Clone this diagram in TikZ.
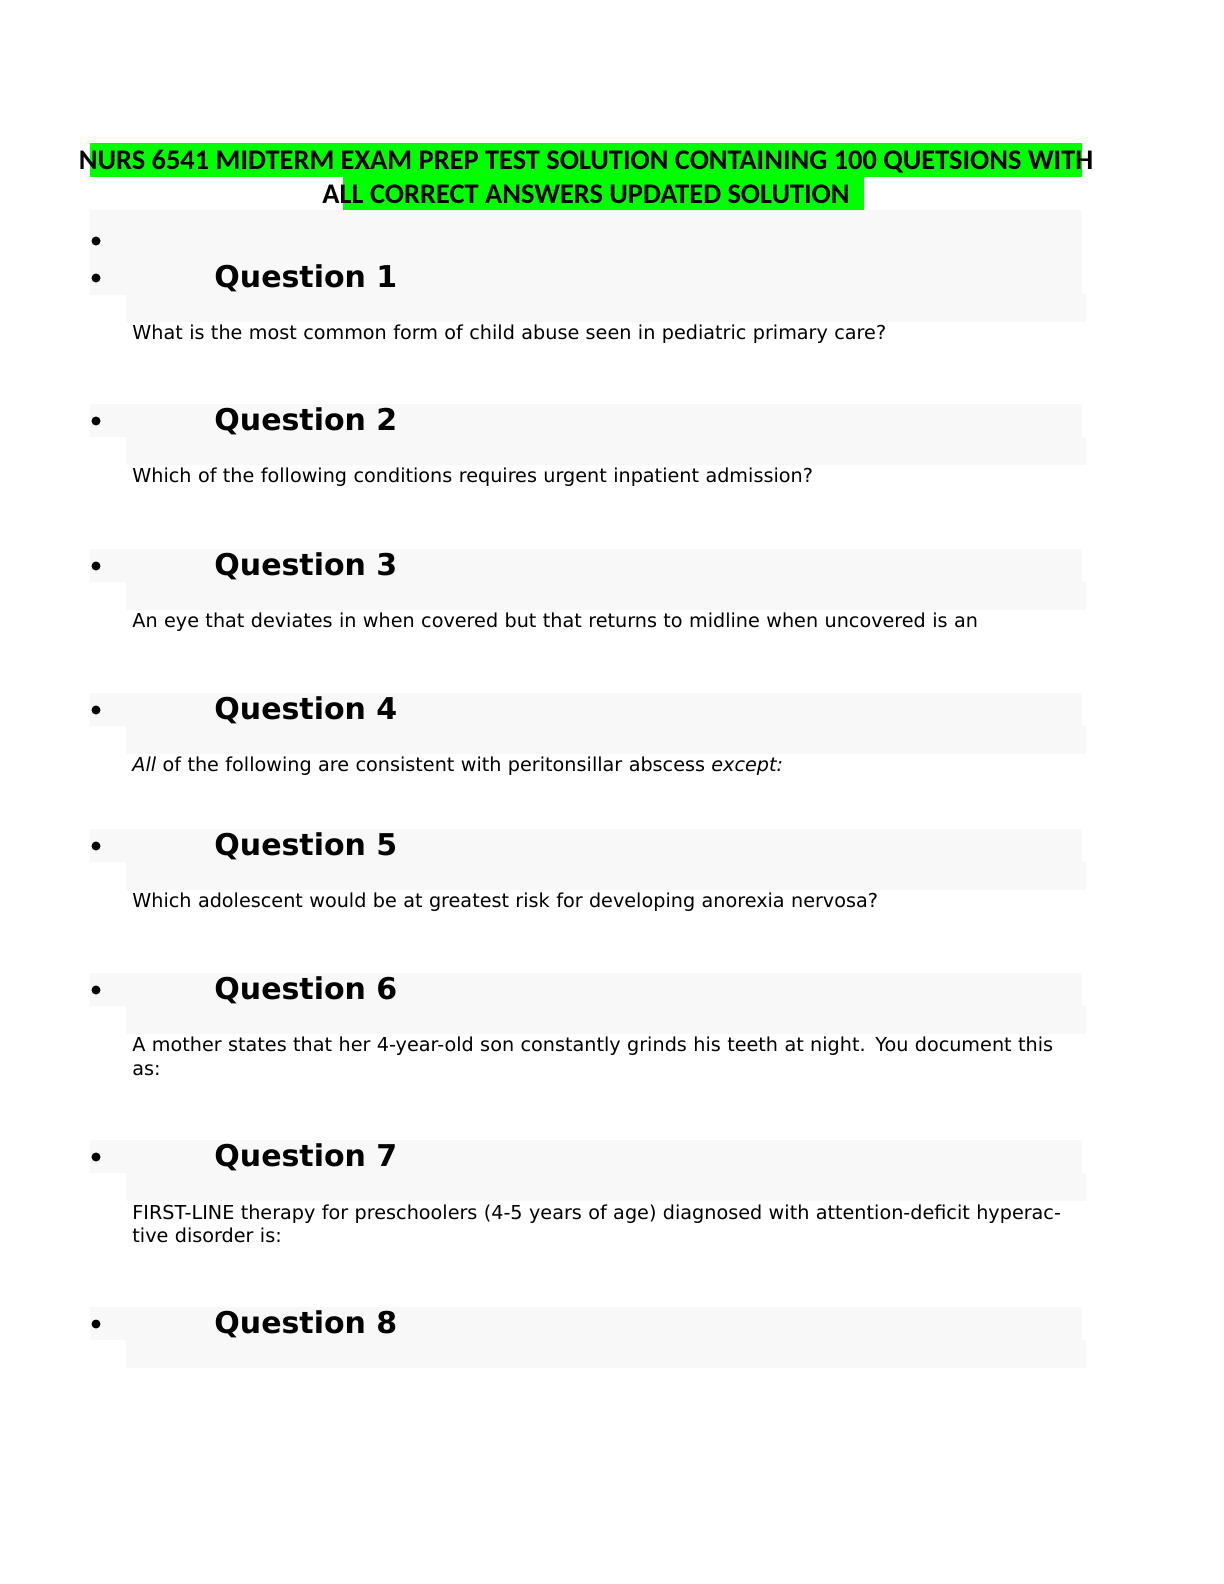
\documentclass[tikz,border=0pt]{standalone}
\usepackage{fontspec}
\setmainfont{DejaVu Sans}
\newfontfamily\titlefont{Carlito}
\usetikzlibrary{positioning}
\definecolor{hlgreen}{HTML}{00FF00}
\definecolor{shade}{HTML}{F8F8F8}
\tikzset{
  qhead/.style = {anchor=west, inner sep=0pt, font=\bfseries\fontsize{15}{18}\selectfont},
  qbody/.style = {anchor=north west, inner sep=0pt, align=left, text width=470pt, font=\fontsize{9.6}{11.6}\selectfont},
  bullet/.style = {circle, fill=black, inner sep=0pt, minimum size=4.5pt},
  band/.style = {fill=shade, draw=none}
}
\begin{document}
\begin{tikzpicture}[x=0.5pt, y=-0.5pt]
\useasboundingbox (0,0) rectangle (1224,1584);
% title area
\fill[band] (90,210) rectangle (1082,295);
\fill[hlgreen] (90,143) rectangle (1082,177);
\fill[hlgreen] (343,177) rectangle (864,210);
\node (title) [inner sep=0pt, align=center, font=\titlefont\bfseries\fontsize{14.2}{17}\selectfont] at (586,177)
  {NURS 6541 MIDTERM EXAM PREP TEST SOLUTION CONTAINING 100 QUETSIONS WITH\\ALL CORRECT ANSWERS UPDATED SOLUTION};
\node (b0) [bullet] at (96,241) {};
% questions
\foreach \n/\y/\txt in {
  1/278/{What is the most common form of child abuse seen in pediatric primary care?},
  2/421/{Which of the following conditions requires urgent inpatient admission?},
  3/566/{An eye that deviates in when covered but that returns to midline when uncovered is an},
  4/710/{\textit{All} of the following are consistent with peritonsillar abscess \textit{except:}},
  5/846/{Which adolescent would be at greatest risk for developing anorexia nervosa?},
  6/990/{A mother states that her 4-year-old son constantly grinds his teeth at night. You document this as:},
  7/1157/{FIRST-LINE therapy for preschoolers (4-5 years of age) diagnosed with attention-deficit hyperactive disorder is:},
  8/1324/{}}{
  \fill[band] (90,\y-17) rectangle (1082,\y+16);
  \fill[band] (126,\y+16) rectangle (1086,\y+44);
  \node (b\n) [bullet] at (96,\y) {};
  \node (q\n) [qhead] at (214,\y) {Question \n};
  \node (t\n) [qbody] at (132,\y+47) {\txt};
}
\end{tikzpicture}
\end{document}
